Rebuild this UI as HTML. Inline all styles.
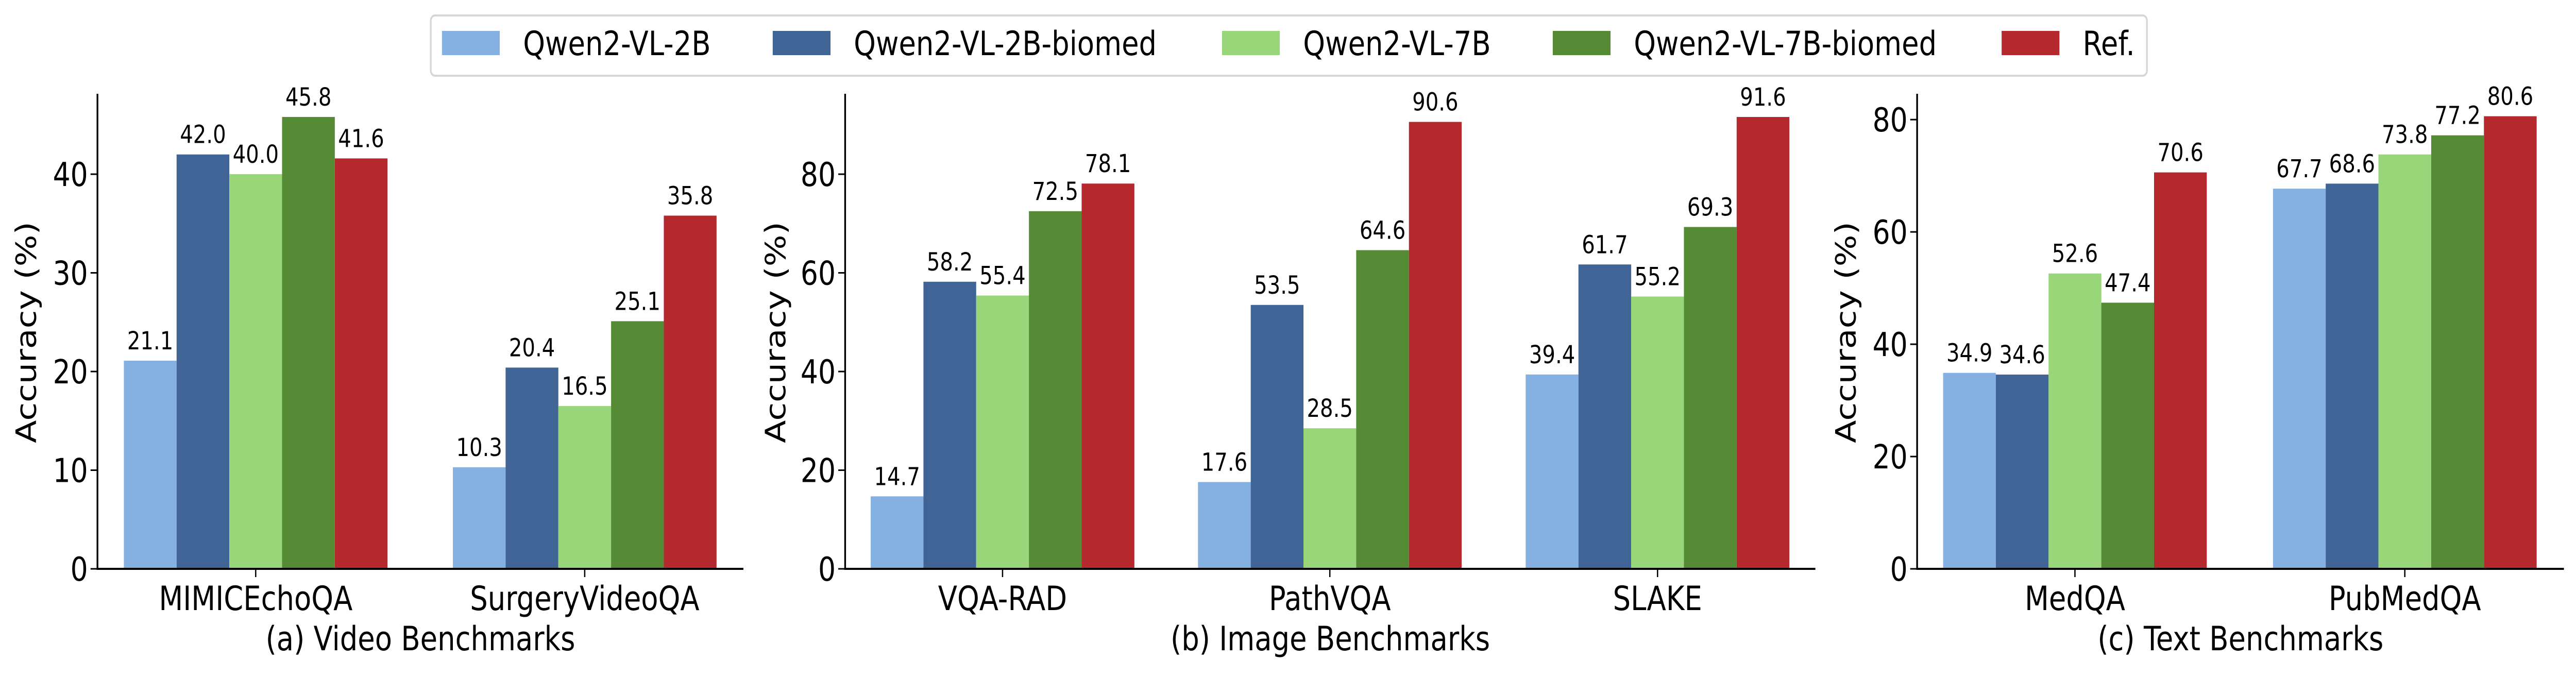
<!DOCTYPE html>
<html><head><meta charset="utf-8">
<style>
html,body{margin:0;padding:0;background:#fff;width:100%;height:100%;overflow:hidden;}
svg{display:block;width:100vw;height:100vh;}
text{font-family:"DejaVu Sans","Liberation Sans",sans-serif;fill:#000;}
</style></head>
<body>
<svg id="chart" viewBox="0 0 5974 1310" preserveAspectRatio="none" xmlns="http://www.w3.org/2000/svg">
  <g id="legend">
    <rect x="999" y="30" width="3980" height="117" rx="10" fill="#fff" stroke="#d6d6d6" stroke-width="4"/>
  </g>
</svg>
<script>
const seriesNames = ["Qwen2-VL-2B","Qwen2-VL-2B-biomed","Qwen2-VL-7B","Qwen2-VL-7B-biomed","Ref."];
const seriesColors = ["#84b1e1","#406496","#99d67a","#558b35","#b5292e"];
const videoCategories = ["MIMICEchoQA","SurgeryVideoQA"];
const videoValues = [[21.1,10.3],[42.0,20.4],[40.0,16.5],[45.8,25.1],[41.6,35.8]];
const videoTicks = [0,10,20,30,40];
const imageCategories = ["VQA-RAD","PathVQA","SLAKE"];
const imageValues = [[14.7,17.6,39.4],[58.2,53.5,61.7],[55.4,28.5,55.2],[72.5,64.6,69.3],[78.1,90.6,91.6]];
const imageTicks = [0,20,40,60,80];
const textCategories = ["MedQA","PubMedQA"];
const textValues = [[34.9,67.7],[34.6,68.6],[52.6,73.8],[47.4,77.2],[70.6,80.6]];
const textTicks = [0,20,40,60,80];

const NS="http://www.w3.org/2000/svg";
const svg=document.getElementById('chart');
function mk(tag,attrs,parent){const e=document.createElementNS(NS,tag);for(const k in attrs)e.setAttribute(k,attrs[k]);(parent||svg).appendChild(e);return e;}

const panels=[
 {id:'video',cats:videoCategories,vals:videoValues,ticks:videoTicks,ymax:48.15,x0:226,x1:1724,centers:[593,1356],ylabX:60,title:"(a) Video Benchmarks"},
 {id:'image',cats:imageCategories,vals:imageValues,ticks:imageTicks,ymax:96.3,x0:1960,x1:4210,centers:[2325,3084,3844],ylabX:1798,title:"(b) Image Benchmarks"},
 {id:'text',cats:textCategories,vals:textValues,ticks:textTicks,ymax:84.6,x0:4446,x1:5946,centers:[4812,5577],ylabX:4280,title:"(c) Text Benchmarks"}
];
const yBase=1104, yTop=182, barW=122.3;

panels.forEach(p=>{
  const g=mk('g',{});
  
  
  const ys=v=>yBase-(v/p.ymax)*(yBase-yTop);
  p.vals.forEach((series,si)=>{
    series.forEach((v,ci)=>{
      const x=p.centers[ci]+(si-2.5)*barW;
      const r=mk('rect',{x:x,y:ys(v),width:barW,height:yBase-ys(v),fill:seriesColors[si]},g);
      
      
      const t=mk('text',{x:x+barW/2,y:ys(v)-22,'font-size':48,'text-anchor':'middle'},g);
      t.textContent=v.toFixed(1);
      
      
    });
  });
  const ax=mk('line',{x1:p.x0,y1:yTop,x2:p.x0,y2:yBase+2,stroke:'#000','stroke-width':4},g);
  
  
  const bx=mk('line',{x1:p.x0-2,y1:yBase,x2:p.x1,y2:yBase,stroke:'#000','stroke-width':4},g);
  
  
  p.ticks.forEach(tv=>{
    mk('line',{x1:p.x0-16,y1:ys(tv),x2:p.x0,y2:ys(tv),stroke:'#000','stroke-width':3},g);
    const t=mk('text',{x:p.x0-22,y:ys(tv)+23,'font-size':64,'text-anchor':'end'},g);
    t.textContent=tv;
    
    
  });
  p.cats.forEach((c,ci)=>{
    mk('line',{x1:p.centers[ci],y1:yBase,x2:p.centers[ci],y2:yBase+16,stroke:'#000','stroke-width':3},g);
    const t=mk('text',{x:p.centers[ci],y:1184,'font-size':65,'text-anchor':'middle'},g);
    t.textContent=c;
    
    
  });
  const yl=mk('text',{x:p.ylabX+23,y:645,'font-size':65,'text-anchor':'middle',transform:`rotate(-90 ${p.ylabX+23} 645)`},g);
  yl.textContent="Accuracy (%)";
  
  
  const tt=mk('text',{x:(p.x0+p.x1)/2,y:1262,'font-size':65,'text-anchor':'middle'},g);
  tt.textContent=p.title;
  
  
});

const lg=document.getElementById('legend');
const legX=[1025,1792,2834,3601,4642];
seriesNames.forEach((n,i)=>{
  const r=mk('rect',{x:legX[i],y:60,width:134,height:47,fill:seriesColors[i]},lg);
  
  
  const t=mk('text',{x:legX[i]+188,y:107,'font-size':65},lg);
  t.textContent=n;
  
  
});
</script>
</body></html>
